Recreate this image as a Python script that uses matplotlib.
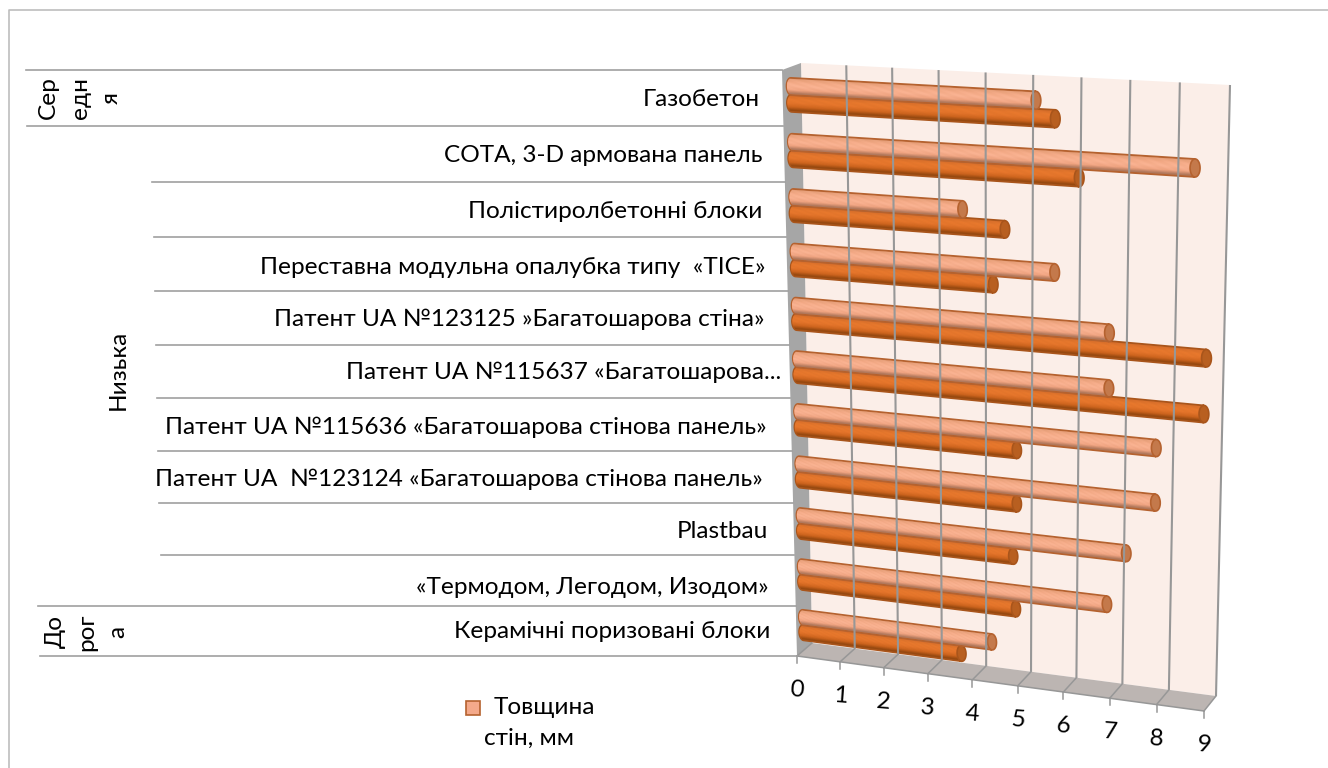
import matplotlib
matplotlib.use('Agg')
import matplotlib.pyplot as plt
import numpy as np
from matplotlib.transforms import Transform
from matplotlib.colors import to_rgb
from matplotlib.patches import Rectangle

plt.rcParams['font.family'] = ['Lato', 'Noto Sans', 'DejaVu Sans']

# top row first
categories = ['Газобетон', 'СОТА, 3-D армована панель', 'Полістиролбетонні блоки',
              'Переставна модульна опалубка типу  «TICE»',
              'Патент UA №123125 »Багатошарова стіна»',
              'Патент UA №115637 «Багатошарова...',
              'Патент UA №115636 «Багатошарова стінова панель»',
              'Патент UA  №123124 «Багатошарова стінова панель»',
              'Plastbau', '«Термодом, Легодом, Изодом»', 'Керамічні поризовані блоки']
groups = ['Сер\nедн\nя', 'Низька', 'До\nрог\nа']
light_vals = [5.25, 8.5, 3.7, 5.65, 6.8, 6.8, 7.8, 7.8, 7.2, 6.8, 4.3]
dark_vals = [5.65, 6.15, 4.6, 4.35, 8.8, 8.77, 4.85, 4.85, 4.77, 4.83, 3.62]
value_ticks = list(range(10))
legend_lines = ['Товщина', 'стін, мм']

# layout (pixels)
FRONT = [(797, 656), (1204, 711), (1215, 94), (782, 70)]
BACK = [(812, 643), (1216, 696), (1230, 85), (801, 63)]
label_right = [760, 762, 762, 765, 765, 781, 767, 763, 768, 769, 770]
label_y = [99, 155, 211, 267, 319, 372, 427, 479, 531, 587, 631]
sep_left = [26, 27, 152, 154, 155, 156, 157, 158, 159, 161, 38, 40]
N = len(categories)
VMAX = 9
FS = 17.6


def homography(pts):
    src = [(0, 0), (VMAX, 0), (VMAX, N), (0, N)]
    a, b = [], []
    for (x, y), (u, v) in zip(src, pts):
        a.append([x, y, 1, 0, 0, 0, -u * x, -u * y])
        a.append([0, 0, 0, x, y, 1, -v * x, -v * y])
        b += [u, v]
    return np.append(np.linalg.solve(np.array(a, float), np.array(b, float)), 1).reshape(3, 3)


class PlaneTransform(Transform):
    # value/row to pixels, on a plane at depth d (0 front, 1 back wall)
    input_dims = 2
    output_dims = 2
    is_separable = False
    has_inverse = False

    def __init__(self, d):
        super().__init__()
        pts = (1 - d) * np.array(FRONT, float) + d * np.array(BACK, float)
        self.h = homography(pts)

    def transform_non_affine(self, values):
        values = np.asarray(values, float)
        p = np.column_stack([values, np.ones(len(values))]) @ self.h.T
        return p[:, :2] / p[:, 2:]


fig = plt.figure(figsize=(13.28, 7.68), dpi=100)
ax = fig.add_axes([0, 0, 1, 1])
ax.set_xlim(0, 1328)
ax.set_ylim(768, 0)
ax.set_autoscale_on(False)
ax.axis('off')

front = PlaneTransform(0)
back = PlaneTransform(1)
mid = PlaneTransform(0.45)

# chart frame, open on the right
ax.plot([9, 9, 1328], [768, 10, 10], color='#bdbdbd', lw=1.2)

# walls
ax.fill([0, VMAX, VMAX, 0], [0, 0, N, N], transform=back + ax.transData, color='#fbeee8', lw=0)
px_f = front.transform(np.array([[0, 0], [0, N]], float))
px_b = back.transform(np.array([[0, 0], [0, N]], float))
ax.fill([px_f[0, 0], px_f[1, 0], px_b[1, 0], px_b[0, 0]],
        [px_f[0, 1], px_f[1, 1], px_b[1, 1], px_b[0, 1]], color='#a6a6a6', lw=0)
fb = front.transform(np.array([[v, 0] for v in value_ticks], float))
bb = back.transform(np.array([[v, 0] for v in value_ticks], float))
bt = back.transform(np.array([[v, N] for v in value_ticks], float))
ax.fill([fb[0, 0], fb[-1, 0], bb[-1, 0], bb[0, 0]],
        [fb[0, 1], fb[-1, 1], bb[-1, 1], bb[0, 1]], color='#bcb5b2', lw=0)
for i in value_ticks:
    if i > 0:
        ax.plot([bb[i, 0], bt[i, 0]], [bb[i, 1], bt[i, 1]], color='#979797', lw=1.5, solid_capstyle='butt')
    ax.plot([fb[i, 0], bb[i, 0]], [fb[i, 1], bb[i, 1]], color='#979797', lw=1.1)
    ax.plot([fb[i, 0], fb[i, 0]], [fb[i, 1], fb[i, 1] + 7], color='#979797', lw=1.1)
    ax.text(fb[i, 0], fb[i, 1] + 34, str(value_ticks[i]), fontsize=FS, rotation=-4,
            ha='center', va='center', color='#000000')
ax.plot(fb[[0, -1], 0], fb[[0, -1], 1], color='#979797', lw=1.1)

# category separators
for i, left in enumerate(sep_left):
    p = front.transform(np.array([[0, N - i]], float))[0]
    ax.plot([left, p[0]], [p[1], p[1]], color='#a0a0a0', lw=1.2)


def draw_bar(row, val, stops, edge, cap):
    half = 0.155
    tr = mid + ax.transData
    t = np.linspace(np.pi / 2, 3 * np.pi / 2, 15)
    rx = 0.1
    # outline with round left end
    xs = np.r_[rx * np.cos(t), val + rx * np.cos(t[::-1])]
    ys = np.r_[row + half * np.sin(t), row + half * np.sin(t[::-1])]
    ax.fill(xs, ys, transform=tr, color=edge, lw=1.2)
    n = 18
    pos = np.linspace(0, 1, len(stops))
    rgb = np.array([to_rgb(c) for c in stops])
    edges = np.linspace(row + half * 0.86, row - half * 0.86, n + 1)
    for j in range(n):
        f = (j + 0.5) / n
        col = [np.interp(f, pos, rgb[:, k]) for k in range(3)]
        x0 = -rx * 0.85 * np.sqrt(1 - (2 * f - 1) ** 2)
        ax.fill([x0, val, val, x0], [edges[j], edges[j], edges[j + 1], edges[j + 1]],
                transform=tr, color=col, lw=0.3)
    tt = np.linspace(0, 2 * np.pi, 40)
    ax.fill(val + rx * np.cos(tt), row + half * np.sin(tt), transform=tr,
            facecolor=cap, edgecolor=edge, lw=1.2)


LIGHT = ['#e9a27d', '#f9b08e', '#fdb797', '#f4a987', '#a9745a']
DARK = ['#d9702c', '#ea7a2e', '#e8772c', '#d0661f', '#8f450e']

for i in range(N):
    row = N - i - 0.5
    draw_bar(row - 0.15, dark_vals[i], DARK, '#a9551b', '#b85f20')
    draw_bar(row + 0.15, light_vals[i], LIGHT, '#b5622f', '#c4794b')
    ax.text(label_right[i], label_y[i], categories[i], fontsize=FS, ha='right', va='center',
            color='#000000')

# group labels
ax.text(80, 98, groups[0], rotation=90, fontsize=FS, ha='center', va='center', linespacing=1.6,
        multialignment='center', color='#000000')
ax.text(118, 370, groups[1], rotation=90, fontsize=FS, ha='center', va='center', color='#000000')
ax.text(87, 632, groups[2], rotation=90, fontsize=FS, ha='center', va='center', linespacing=1.6,
        multialignment='center', color='#000000')

# legend
ax.add_patch(Rectangle((466, 701), 14, 14, facecolor='#f4a98a', edgecolor='#b5622f', lw=1.2))
ax.text(494, 708, legend_lines[0], fontsize=FS, ha='left', va='center', color='#000000')
ax.text(484, 738, legend_lines[1], fontsize=FS, ha='left', va='center', color='#000000')

fig.savefig('out.png', dpi=100)
